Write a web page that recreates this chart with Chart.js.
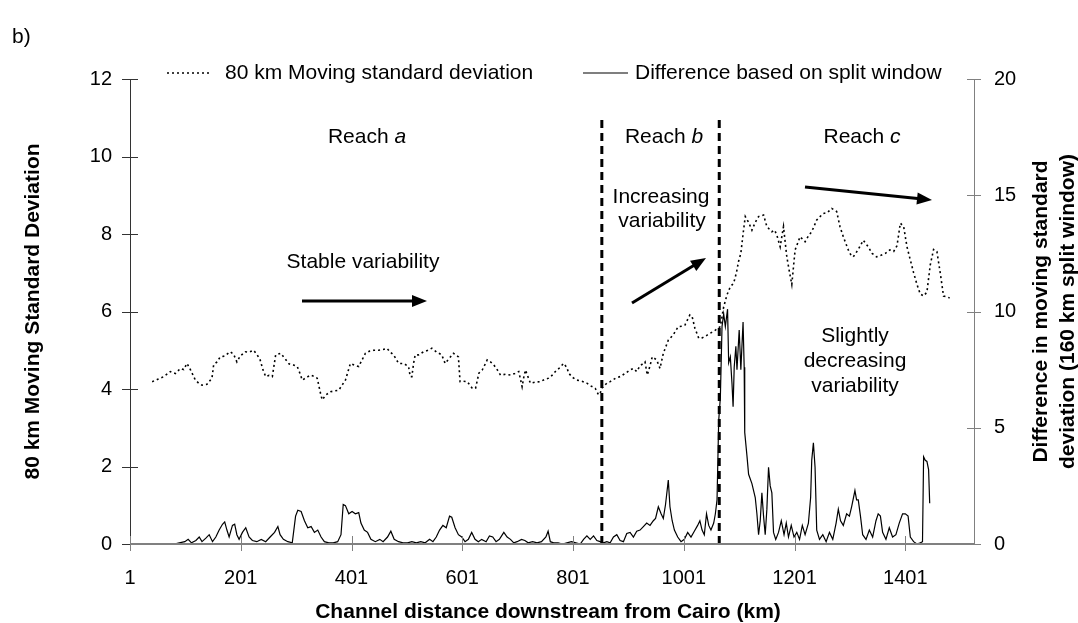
<!DOCTYPE html>
<html>
<head>
<meta charset="utf-8">
<script src="https://cdn.jsdelivr.net/npm/chart.js@4.4.1/dist/chart.umd.min.js"></script>
<style>
  html, body { margin: 0; padding: 0; background: #fff; }
  #wrap { width: 1078px; height: 623px; }
</style>
</head>
<body>
<div id="wrap"><canvas id="chart" width="1078" height="623"></canvas></div>
<script>
// distancia (km) y desviación estándar móvil de 80 km (eje izquierdo)
var stdKm = [41,51,62,74,83,92,98,104,110,119,125,131,140,149,152,158,164,172,182,188,194,200,209,216,224,230,236,241,246,252,258,264,273,280,288,296,303,308,312,320,327,333,339,345,348,355,363,370,378,384,390,399,406,414,420,426,434,441,450,458,465,471,477,486,495,504,507,510,513,516,522,531,539,546,555,564,570,578,585,594,597,603,610,619,625,631,637,646,652,658,664,670,679,688,696,703,709,712,715,724,733,742,750,757,763,769,777,784,790,793,800,808,817,826,833,841,847,850,853,862,868,878,886,895,904,910,916,922,928,931,935,940,944,952,958,964,973,982,991,998,1003,1012,1016,1021,1028,1034,1043,1050,1058,1067,1073,1079,1085,1091,1096,1100,1104,1108,1112,1118,1124,1130,1136,1145,1151,1160,1165,1169,1175,1181,1187,1192,1196,1202,1211,1220,1226,1232,1241,1247,1253,1260,1268,1277,1283,1289,1298,1303,1307,1316,1325,1334,1341,1349,1357,1365,1373,1380,1386,1392,1398,1404,1410,1416,1422,1428,1434,1440,1446,1452,1458,1464,1470,1476,1481];
var stdVals = [4.19,4.25,4.32,4.45,4.40,4.53,4.50,4.66,4.50,4.23,4.15,4.10,4.12,4.28,4.62,4.70,4.83,4.85,4.96,4.90,4.70,4.85,4.96,4.95,5.00,4.90,4.75,4.50,4.32,4.35,4.32,4.88,4.92,4.80,4.65,4.62,4.58,4.40,4.23,4.30,4.36,4.33,4.28,3.89,3.72,3.85,3.93,3.95,3.97,4.10,4.23,4.66,4.62,4.58,4.75,4.92,4.98,5.00,5.00,5.02,5.05,4.95,4.88,4.66,4.66,4.58,4.32,4.32,4.66,4.88,4.88,4.96,5.00,5.05,4.95,4.88,4.66,4.80,4.92,4.83,4.19,4.20,4.19,4.02,4.02,4.41,4.49,4.75,4.70,4.62,4.50,4.36,4.38,4.36,4.40,4.45,4.06,4.30,4.49,4.15,4.18,4.19,4.25,4.28,4.35,4.45,4.55,4.66,4.55,4.41,4.30,4.23,4.20,4.15,4.08,4.02,3.85,3.89,4.02,4.15,4.19,4.28,4.32,4.40,4.49,4.53,4.45,4.60,4.66,4.70,4.36,4.60,4.83,4.75,4.53,4.92,5.26,5.40,5.61,5.62,5.65,5.91,5.87,5.57,5.31,5.32,5.39,5.45,5.52,5.61,6.12,6.43,6.64,6.73,7.00,7.30,7.50,8.00,8.45,8.30,8.10,8.30,8.45,8.49,8.19,8.06,8.10,7.97,7.67,8.19,7.41,7.00,6.70,7.59,7.93,7.80,7.95,8.06,8.36,8.45,8.53,8.55,8.66,8.58,8.19,7.93,7.59,7.45,7.41,7.60,7.84,7.67,7.50,7.41,7.45,7.50,7.59,7.55,7.70,8.28,8.19,7.67,7.33,7.00,6.70,6.45,6.40,6.50,7.20,7.60,7.55,7.00,6.40,6.38,6.35];

// diferencia con ventana dividida de 160 km (eje derecho)
var diffKm = [81,90,100,106,112,120,126,131,138,144,150,156,162,168,172,176,180,186,190,194,198,204,210,216,222,230,238,246,254,262,268,272,278,286,294,300,304,310,316,322,328,334,340,346,352,360,368,376,382,386,390,396,402,408,414,418,424,430,436,444,452,458,466,472,478,486,494,502,510,518,526,534,542,548,554,560,566,572,578,582,588,594,600,606,612,618,624,630,636,644,650,656,662,668,676,682,688,694,700,708,714,720,728,736,744,752,756,760,766,774,782,790,798,806,814,820,826,832,838,844,850,856,862,868,874,880,886,892,898,904,910,916,922,928,934,940,946,950,955,960,964,968,973,976,980,984,990,996,1002,1008,1014,1020,1026,1030,1034,1038,1042,1046,1050,1055,1058,1061,1064,1067,1070,1073,1076,1080,1082,1085,1088,1090,1092,1095,1097,1101,1104,1108,1110,1111,1115,1118,1124,1130,1133,1136,1139,1142,1145,1148,1151,1154,1157,1160,1163,1167,1172,1177,1182,1186,1190,1195,1200,1205,1210,1215,1220,1226,1230,1232,1235,1238,1241,1246,1252,1258,1264,1270,1276,1280,1284,1289,1295,1300,1304,1310,1313,1316,1320,1324,1330,1336,1342,1348,1352,1356,1360,1366,1372,1378,1384,1390,1396,1401,1406,1410,1416,1422,1428,1432,1434,1437,1440,1443,1445];
var diffVals = [0,0.05,0.1,0.2,0.05,0.15,0.3,0.1,0.25,0.4,0.1,0.3,0.6,0.85,0.95,0.6,0.3,0.8,0.85,0.4,0.2,0.5,0.7,0.3,0.15,0.1,0.2,0.1,0.3,0.5,0.75,0.4,0.2,0.1,0.05,1.2,1.45,1.4,1.0,0.7,0.75,0.5,0.6,0.3,0.1,0.05,0.05,0.1,0.4,1.7,1.65,1.3,1.4,1.3,1.35,0.9,0.6,0.5,0.2,0.1,0.2,0.1,0.3,0.55,0.2,0.1,0.05,0.05,0.1,0.05,0.1,0.05,0.2,0.1,0.3,0.6,0.8,0.7,1.2,1.15,0.7,0.4,0.3,0.1,0.2,0.5,0.2,0.1,0.2,0.1,0.35,0.3,0.1,0.2,0.5,0.3,0.2,0.05,0.1,0.2,0.15,0.05,0.1,0.05,0.1,0.3,0.55,0.1,0.05,0.05,0,0.05,0.1,0.05,0,0.2,0.35,0.2,0.35,0.15,0.1,0.05,0.1,0.05,0.3,0.4,0.15,0.1,0.45,0.5,0.3,0.55,0.6,0.75,0.9,0.8,1.0,1.1,1.6,1.3,1.1,1.7,2.75,1.6,1.0,0.6,0.3,0.1,0.2,0.5,0.3,0.55,0.8,1.0,0.6,0.4,1.3,0.8,0.6,0.9,1.3,1.9,5.3,6.3,9.35,9.9,9.35,10.1,7.8,8.05,6.9,5.9,7.6,8.5,7.5,9.2,7.5,9.55,7.6,4.8,3.8,3.0,2.6,2.0,1.3,0.4,1.0,2.2,1.2,0.4,1.5,3.3,2.5,2.2,0.5,0.2,0.5,1.0,0.4,0.9,0.3,0.8,0.3,0.5,0.2,0.8,0.4,0.9,2.0,3.6,4.35,3.3,0.6,0.2,0.4,0.1,0.5,0.2,0.9,1.5,1.0,0.8,1.3,1.2,1.6,2.3,1.9,1.9,1.2,0.4,0.2,0.6,0.3,1.0,1.3,1.2,0.5,0.2,0.7,0.3,0.4,0.9,1.3,1.3,1.2,0.3,0.1,0,0.05,0.1,3.75,3.6,3.55,3.2,1.75];

// límites entre tramos (km) y altura de las líneas discontinuas
var reachBounds = [853, 1065];
var boundTop = 11;

// etiquetas de los ejes
var xTicks = [1, 201, 401, 601, 801, 1001, 1201, 1401];
var xMin = 1, xMax = 1525;

function pares(xs, ys) {
  return xs.map(function (x, i) { return { x: x, y: ys[i] }; });
}

var fuente = 'Liberation Sans, Arial, sans-serif';

var datasets = [
  {
    label: '80 km Moving standard deviation',
    data: pares(stdKm, stdVals),
    yAxisID: 'y',
    borderColor: '#000',
    borderWidth: 1.6,
    borderDash: [2, 3],
    pointRadius: 0,
    tension: 0,
    fill: false
  },
  {
    label: 'Difference based on split window',
    data: pares(diffKm, diffVals),
    yAxisID: 'y2',
    borderColor: '#000',
    borderWidth: 1.2,
    pointRadius: 0,
    tension: 0,
    fill: false
  }
];
reachBounds.forEach(function (b) {
  datasets.push({
    label: 'limite',
    data: [{ x: b, y: 0 }, { x: b, y: boundTop }],
    yAxisID: 'y',
    borderColor: '#000',
    borderWidth: 3,
    borderDash: [8, 5],
    pointRadius: 0,
    fill: false
  });
});

function flecha(ctx, x1, y1, x2, y2) {
  var ang = Math.atan2(y2 - y1, x2 - x1);
  var L = 15, W = 6;
  ctx.beginPath();
  ctx.moveTo(x1, y1);
  ctx.lineTo(x2 - L * 0.8 * Math.cos(ang), y2 - L * 0.8 * Math.sin(ang));
  ctx.lineWidth = 3;
  ctx.stroke();
  ctx.beginPath();
  ctx.moveTo(x2, y2);
  ctx.lineTo(x2 - L * Math.cos(ang) + W * Math.sin(ang), y2 - L * Math.sin(ang) - W * Math.cos(ang));
  ctx.lineTo(x2 - L * Math.cos(ang) - W * Math.sin(ang), y2 - L * Math.sin(ang) + W * Math.cos(ang));
  ctx.closePath();
  ctx.fill();
}

// texto "Reach x" con la letra en cursiva
function tramo(ctx, letra, cx, cy) {
  ctx.font = '21px ' + fuente;
  var w1 = ctx.measureText('Reach ').width;
  ctx.font = 'italic 21px ' + fuente;
  var w2 = ctx.measureText(letra).width;
  var x0 = cx - (w1 + w2) / 2;
  ctx.textAlign = 'left';
  ctx.font = '21px ' + fuente;
  ctx.fillText('Reach ', x0, cy);
  ctx.font = 'italic 21px ' + fuente;
  ctx.fillText(letra, x0 + w1, cy);
}

var extras = {
  id: 'extras',
  afterDraw: function (chart) {
    var ctx = chart.ctx, a = chart.chartArea;
    var sx = chart.scales.x, sy = chart.scales.y, sy2 = chart.scales.y2;
    ctx.save();
    ctx.fillStyle = '#000';
    ctx.strokeStyle = '#000';

    // ejes
    ctx.lineWidth = 1;
    ctx.strokeStyle = '#333';
    ctx.beginPath(); ctx.moveTo(a.left + 0.5, a.top); ctx.lineTo(a.left + 0.5, a.bottom); ctx.stroke();
    sy.ticks.forEach(function (t) {
      var y = Math.round(sy.getPixelForValue(t.value)) + 0.5;
      ctx.beginPath(); ctx.moveTo(a.left - 8, y); ctx.lineTo(a.left + 8, y); ctx.stroke();
    });
    ctx.strokeStyle = '#808080';
    ctx.beginPath(); ctx.moveTo(a.right + 0.5, a.top); ctx.lineTo(a.right + 0.5, a.bottom); ctx.stroke();
    sy2.ticks.forEach(function (t) {
      var y = Math.round(sy2.getPixelForValue(t.value)) + 0.5;
      ctx.beginPath(); ctx.moveTo(a.right - 7, y); ctx.lineTo(a.right + 7, y); ctx.stroke();
    });
    sx.ticks.forEach(function (t) {
      var x = Math.round(sx.getPixelForValue(t.value)) + 0.5;
      ctx.beginPath(); ctx.moveTo(x, a.bottom - 8); ctx.lineTo(x, a.bottom + 7); ctx.stroke();
    });
    ctx.lineWidth = 2;
    ctx.beginPath(); ctx.moveTo(a.left, a.bottom); ctx.lineTo(a.right, a.bottom); ctx.stroke();

    // títulos de ejes
    ctx.fillStyle = '#000';
    ctx.textBaseline = 'middle';
    ctx.textAlign = 'center';
    ctx.font = 'bold 21px ' + fuente;
    var cy = (a.top + a.bottom) / 2;
    ctx.fillText('Channel distance downstream from Cairo (km)', 548, 612);
    ctx.save(); ctx.translate(33, cy); ctx.rotate(-Math.PI / 2);
    ctx.fillText('80 km Moving Standard Deviation', 0, 0); ctx.restore();
    ctx.save(); ctx.translate(1041, cy); ctx.rotate(-Math.PI / 2);
    ctx.fillText('Difference in moving standard', 0, 0); ctx.restore();
    ctx.save(); ctx.translate(1068, cy); ctx.rotate(-Math.PI / 2);
    ctx.fillText('deviation (160 km split window)', 0, 0); ctx.restore();

    // letra del panel
    ctx.font = '21px ' + fuente;
    ctx.textAlign = 'left';
    ctx.fillText('b)', 12, 37);

    // leyenda
    var ly = 73;
    ctx.lineWidth = 1.5;
    ctx.strokeStyle = '#000';
    ctx.setLineDash([2, 3]);
    ctx.beginPath(); ctx.moveTo(167, ly); ctx.lineTo(211, ly); ctx.stroke();
    ctx.setLineDash([]);
    ctx.lineWidth = 1.2;
    ctx.beginPath(); ctx.moveTo(583, ly); ctx.lineTo(628, ly); ctx.stroke();
    ctx.fillText('80 km Moving standard deviation', 225, ly);
    ctx.fillText('Difference based on split window', 635, ly);

    // anotaciones de los tramos
    tramo(ctx, 'a', 367, 137);
    tramo(ctx, 'b', 664, 137);
    tramo(ctx, 'c', 862, 137);
    ctx.textAlign = 'center';
    ctx.font = '21px ' + fuente;
    ctx.fillText('Stable variability', 363, 262);
    ctx.fillText('Increasing', 661, 197);
    ctx.fillText('variability', 662, 221);
    ctx.fillText('Slightly', 855, 336);
    ctx.fillText('decreasing', 855, 361);
    ctx.fillText('variability', 855, 386);

    // flechas
    flecha(ctx, 302, 301, 427, 301);
    flecha(ctx, 632, 303, 706, 258);
    flecha(ctx, 805, 187, 932, 200);
    ctx.restore();
  }
};

var ctx = document.getElementById('chart').getContext('2d');
var grafico = new Chart(ctx, {
  type: 'line',
  data: { datasets: datasets },
  options: {
    responsive: false,
    animation: false,
    devicePixelRatio: 1,
    layout: { padding: { top: 79, left: 0, right: 0, bottom: 0 } },
    plugins: { legend: { display: false }, tooltip: { enabled: false } },
    scales: {
      x: {
        type: 'linear',
        min: xMin,
        max: xMax,
        afterBuildTicks: function (s) { s.ticks = xTicks.map(function (v) { return { value: v }; }); },
        afterFit: function (s) { s.height = 79; },
        grid: { display: false, drawTicks: false },
        border: { display: false },
        ticks: {
          color: '#000', font: { family: fuente, size: 20 }, padding: 22, maxRotation: 0, autoSkip: false,
          callback: function (v) { return String(v); }
        }
      },
      y: {
        position: 'left',
        min: 0, max: 12,
        afterFit: function (s) { s.width = 130; },
        grid: { display: false, drawTicks: false },
        border: { display: false },
        ticks: { stepSize: 2, color: '#000', font: { family: fuente, size: 20 }, padding: 18 }
      },
      y2: {
        position: 'right',
        min: 0, max: 20,
        afterFit: function (s) { s.width = 104; },
        grid: { display: false, drawTicks: false },
        border: { display: false },
        ticks: { stepSize: 5, color: '#000', font: { family: fuente, size: 20 }, padding: 20 }
      }
    }
  },
  plugins: [extras]
});
</script>
</body>
</html>
